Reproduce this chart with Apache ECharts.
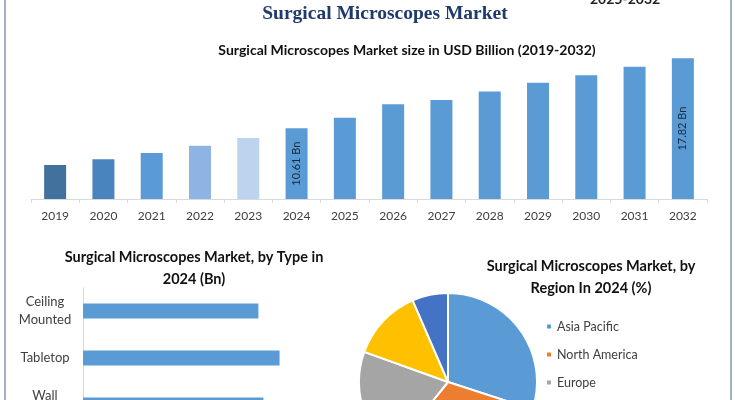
<!DOCTYPE html>
<html>
<head>
<meta charset="utf-8">
<script src="https://cdn.jsdelivr.net/npm/echarts@6/dist/echarts.min.js"></script>
<style>
html,body{margin:0;padding:0;background:#fff;}
#c{width:735px;height:400px;}
</style>
</head>
<body>
<div id="c"></div>
<script>
// ---- data ----
const years = ['2019','2020','2021','2022','2023','2024','2025','2026','2027','2028','2029','2030','2031','2032'];
const marketSize = [6.83, 7.42, 8.07, 8.82, 9.61, 10.61, 11.70, 13.08, 13.52, 14.38, 15.28, 16.07, 16.95, 17.82];
const labelledYears = ['2024', '2032'];
const typeNames = ['Ceiling\nMounted', 'Tabletop', 'Wall\nMounted'];
const typeValues = [3.48, 3.90, 3.58];
const regionNames = ['Asia Pacific', 'North America', 'Europe', 'Middle East and Africa', 'South America'];
const regionShares = [30.0, 30.8, 19.7, 13.0, 6.5];

// ---- styles ----
const barColors = ['#41719C', '#4A84BF', '#5B9BD5', '#8EB4E3', '#BDD4EE', '#5B9BD5', '#5B9BD5', '#5B9BD5', '#5B9BD5', '#5B9BD5', '#5B9BD5', '#5B9BD5', '#5B9BD5', '#5B9BD5'];
const pieColors = ['#5B9BD5', '#ED7D31', '#A5A5A5', '#FFC000', '#4472C4'];
const sans = 'Lato';

const chart = echarts.init(document.getElementById('c'), null, {renderer: 'canvas'});

const yearData = marketSize.map((v, i) => ({
  value: v,
  itemStyle: {color: barColors[i]},
  label: {show: labelledYears.indexOf(years[i]) >= 0}
}));

chart.setOption({
  backgroundColor: '#ffffff',
  animation: false,
  title: [
    {text: 'Surgical Microscopes Market', left: 380, top: -1, textAlign: 'center',
     textStyle: {fontFamily: 'Liberation Serif', fontWeight: 'bold', fontSize: 19.5, color: '#1F3A6B'}},
    {text: 'Surgical Microscopes Market size in USD Billion (2019-2032)', left: 402, top: 38, textAlign: 'center',
     textStyle: {fontFamily: sans, fontWeight: 'bold', fontSize: 14, color: '#111'}},
    {text: 'Surgical Microscopes Market, by Type in\n2024 (Bn)', left: 189, top: 241, textAlign: 'center',
     textStyle: {fontFamily: sans, fontWeight: 'bold', fontSize: 14.5, color: '#111', lineHeight: 22}},
    {text: 'Surgical Microscopes Market, by\nRegion In 2024 (%)', left: 586, top: 250, textAlign: 'center',
     textStyle: {fontFamily: sans, fontWeight: 'bold', fontSize: 14.5, color: '#111', lineHeight: 22}}
  ],
  graphic: [
    {type: 'line', shape: {x1: 5, y1: 0, x2: 5, y2: 400}, style: {stroke: '#8796a8', lineWidth: 1.5}},
    {type: 'line', shape: {x1: 731, y1: 0, x2: 731, y2: 400}, style: {stroke: '#8796a8', lineWidth: 1.5}},
    {type: 'text', left: 590, top: -8, style: {text: '2025-2032', font: 'bold 14px Lato', fill: '#222'}}
  ],
  legend: {
    data: regionNames, orient: 'vertical', left: 540, top: 315, height: 300,
    icon: 'rect', itemWidth: 6, itemHeight: 6, itemGap: 15,
    textStyle: {fontFamily: sans, fontSize: 12.5, color: '#404040'}
  },
  grid: [
    {left: 31, right: 28, top: 37, bottom: 201, outerBoundsMode: 'none'},
    {left: 83, width: 252, top: 287.5, height: 141, outerBoundsMode: 'none'}
  ],
  xAxis: [
    {type: 'category', gridIndex: 0, data: years,
     axisLine: {lineStyle: {color: '#d9d9d9'}},
     axisTick: {show: true, lineStyle: {color: '#d9d9d9'}, length: 4},
     axisLabel: {fontFamily: sans, fontSize: 12, color: '#404040', margin: 11}},
    {type: 'value', gridIndex: 1, min: 0, max: 5, show: false}
  ],
  yAxis: [
    {type: 'value', gridIndex: 0, min: 3.33, max: 20, show: false},
    {type: 'category', gridIndex: 1, data: typeNames, inverse: true,
     axisLine: {lineStyle: {color: '#d9d9d9'}}, axisTick: {show: false},
     axisLabel: {fontFamily: sans, fontSize: 13, color: '#404040', lineHeight: 18, margin: 38, align: 'center'}}
  ],
  series: [
    {type: 'bar', xAxisIndex: 0, yAxisIndex: 0, data: yearData, barWidth: 22,
     label: {position: 'inside', rotate: 90, formatter: '{c} Bn', fontFamily: sans, fontSize: 11, color: '#1b2a3a'}},
    {type: 'bar', xAxisIndex: 1, yAxisIndex: 1, data: typeValues, barWidth: 15,
     itemStyle: {color: '#5B9BD5'}},
    {type: 'pie', center: [448, 382], radius: 89, startAngle: 90, clockwise: true,
     data: regionNames.map((n, i) => ({name: n, value: regionShares[i], itemStyle: {color: pieColors[i]}})),
     itemStyle: {borderColor: '#fff', borderWidth: 2},
     label: {show: false}, labelLine: {show: false}}
  ]
});
</script>
</body>
</html>
